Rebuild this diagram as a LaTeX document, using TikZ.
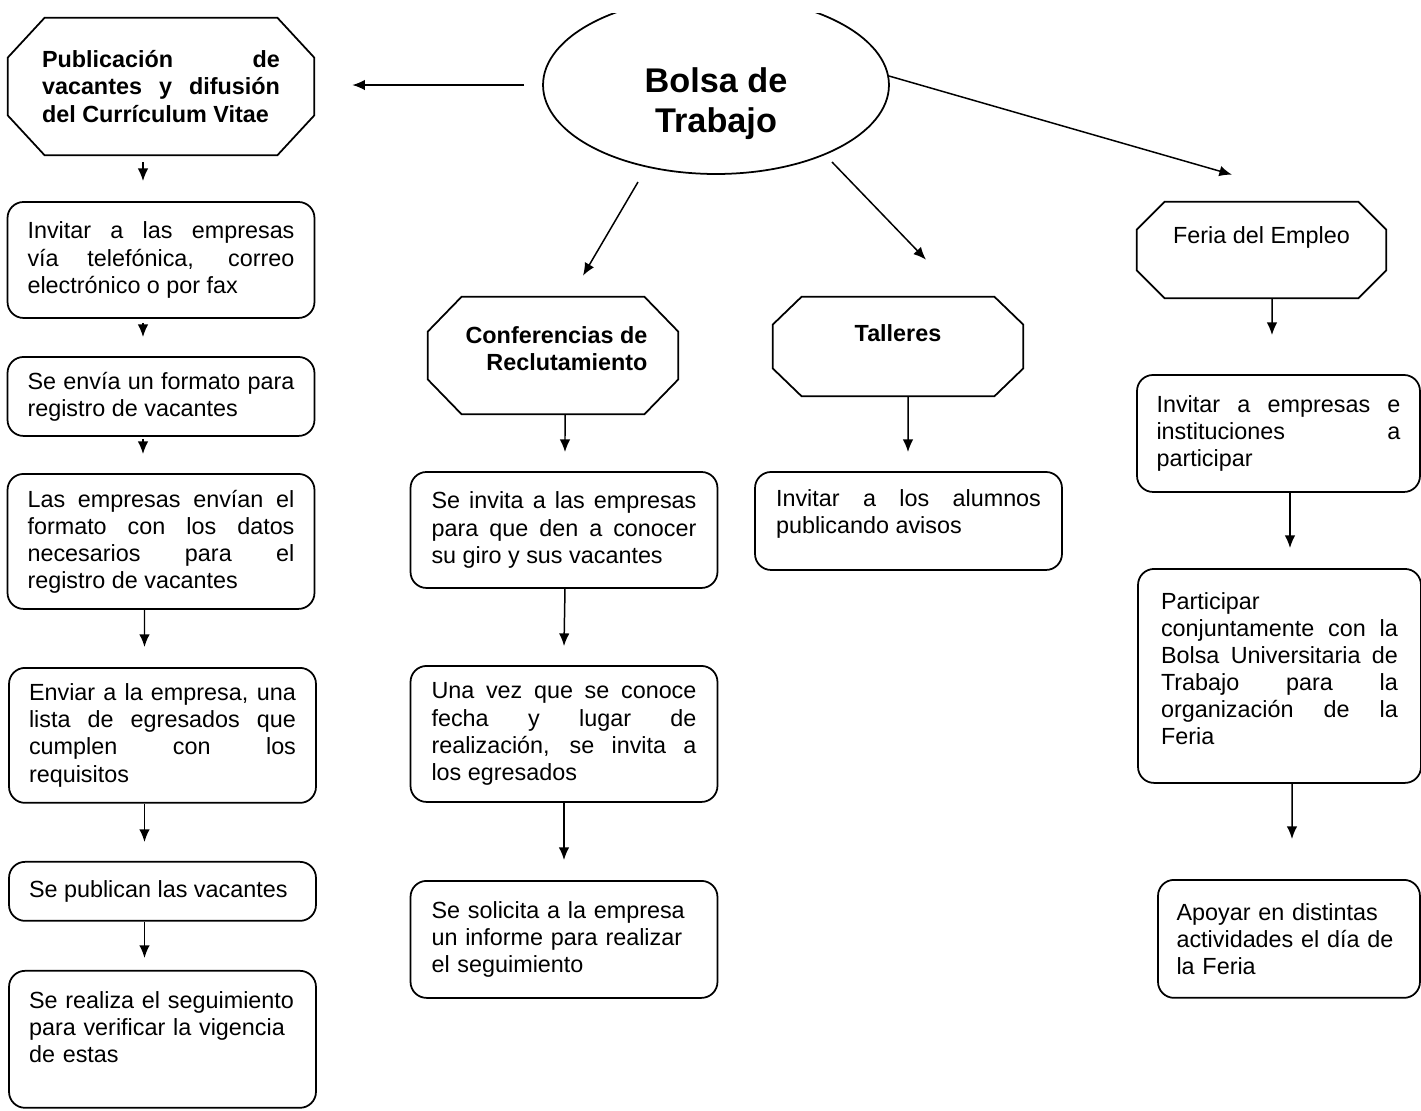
\documentclass[tikz,border=0pt]{standalone}
\usepackage{fontspec}
\setmainfont{Liberation Sans}
\usetikzlibrary{shapes,arrows.meta,calc}
\hyphenpenalty=10000
\exhyphenpenalty=10000
\tolerance=10000
\newcommand{\boxfont}{\fontsize{13.3}{15.4}\selectfont}
\newcommand{\bigfont}{\fontsize{19.5}{22.8}\selectfont\bfseries}
\tikzstyle{block} = [rectangle, draw, line width=1pt, rounded corners=0.32cm,
    text width=5.34cm, align=justify, font=\boxfont, inner sep=0pt, minimum width=6.14cm]
\tikzstyle{octa} = [rectangle, inner sep=0pt]
\tikzstyle{hdtext} = [font=\boxfont\bfseries, inner sep=0pt]
\tikzset{
  line/.style ={draw, line width=0.85pt, -{Latex[length=7.2pt,width=6pt]}}
}
% borde octogonal alrededor de un nodo: nombre, corte x, corte y
\newcommand{\octagon}[3]{%
  \draw [line width=1pt] ($(#1.north west)+(#2,0)$) -- ($(#1.north east)+(-#2,0)$)
    -- ($(#1.north east)+(0,#3)$) -- ($(#1.south east)+(0,-#3)$)
    -- ($(#1.south east)+(-#2,0)$) -- ($(#1.south west)+(#2,0)$)
    -- ($(#1.south west)+(0,-#3)$) -- ($(#1.north west)+(0,#3)$) -- cycle;}

\begin{document}
\begin{tikzpicture}[x=0.02cm, y=-0.02cm]
   \useasboundingbox (0,0) rectangle (1421,1110);
   \begin{scope}
     \clip (0,13) rectangle (1421,1110);
     \node [ellipse, draw, line width=1pt, minimum width=6.92cm, minimum height=3.56cm, inner sep=0pt,
       label={[font=\bigfont, align=center, yshift=-0.38cm]center:{Bolsa de\\Trabajo}}] (bolsa) at (716,85) {};
   \end{scope}
   % columna izquierda
   \node [octa, minimum width=6.12cm, minimum height=2.74cm,
     label={[hdtext, text width=4.76cm, align=justify]center:{Publicación de\linebreak vacantes y difusión\linebreak del Currículum Vitae}}] (pub) at (161,86.5) {};
   \octagon{pub}{37}{40}
   \node [block, below of=pub, node distance=3.47cm, minimum height=2.32cm] (invitar) {Invitar a las empresas\linebreak vía telefónica, correo\linebreak electrónico o por fax};
   \node [block, below of=invitar, node distance=2.73cm, minimum height=1.58cm] (formato) {Se envía un formato para\linebreak registro de vacantes};
   \node [block, below of=formato, node distance=2.9cm, minimum height=2.7cm] (datos) {Las empresas envían el\linebreak formato con los datos\linebreak necesarios para el\linebreak registro de vacantes};
   \node [block, below of=datos, node distance=3.88cm, xshift=0.03cm, minimum height=2.7cm] (lista) {Enviar a la empresa, una\linebreak lista de egresados que\linebreak cumplen con los\linebreak requisitos};
   \node [block, below of=lista, node distance=3.12cm, minimum height=1.18cm] (publican) {Se publican las vacantes};
   \node [block, below of=publican, node distance=2.96cm, align=left, text depth=1.56cm, minimum height=2.74cm] (seguim) {Se realiza el seguimiento\\ para verificar la vigencia\\ de estas};
   % conferencias
   \node [octa, minimum width=5cm, minimum height=2.34cm,
     label={[hdtext, align=right, xshift=0.07cm, yshift=0.14cm]center:{Conferencias de\\Reclutamiento}}] (confer) at (553,355.5) {};
   \octagon{confer}{34}{35}
   \node [block, below of=confer, node distance=3.49cm, xshift=0.22cm, text width=5.3cm, minimum height=2.32cm] (invita) {Se invita a las empresas\linebreak para que den a conocer\linebreak su giro y sus vacantes};
   \node [block, below of=invita, node distance=4.08cm, text width=5.3cm, minimum height=2.72cm] (fecha) {Una vez que se conoce\linebreak fecha y lugar de\linebreak realización, se invita a\linebreak los egresados};
   \node [block, below of=fecha, node distance=4.11cm, text width=5.3cm, align=left, minimum height=2.34cm] (informe) {Se solicita a la empresa\\ un informe para realizar\\ el seguimiento};
   % talleres
   \node [octa, minimum width=5cm, minimum height=1.98cm,
     label={[hdtext, yshift=0.27cm]center:Talleres}] (talleres) at (898,346.5) {};
   \octagon{talleres}{29}{28}
   \node [block, below of=talleres, node distance=3.49cm, xshift=0.21cm, text width=5.3cm, text depth=0.92cm, minimum height=1.96cm] (alumnos) {Invitar a los alumnos\linebreak publicando avisos};
   % feria
   \node [octa, minimum width=4.98cm, minimum height=1.92cm,
     label={[font=\boxfont, inner sep=0pt, yshift=0.26cm]center:Feria del Empleo}] (feria) at (1261.5,250) {};
   \octagon{feria}{28}{28}
   \node [block, below of=feria, node distance=3.67cm, xshift=0.34cm, text width=4.88cm, minimum width=5.66cm, minimum height=2.34cm] (empresas) {Invitar a empresas e\linebreak instituciones a\linebreak participar};
   \node [block, below of=empresas, node distance=4.85cm, xshift=0.02cm, text width=4.74cm, text depth=2.99cm, minimum width=5.66cm, minimum height=4.28cm] (bolsauni) {Participar\linebreak conjuntamente con la\linebreak Bolsa Universitaria de\linebreak Trabajo para la\linebreak organización de la\linebreak Feria};
   \node [block, below of=bolsauni, node distance=5.26cm, xshift=0.19cm, align=left, text width=4.5cm, minimum width=5.24cm, minimum height=2.36cm] (apoyar) {Apoyar en distintas\\ actividades el día de\\ la Feria};
   % flechas
   \path [line] ($(bolsa.west)+(-18,0)$) -- ($(pub.east)+(38,-1.5)$);
   \path [line] ($(bolsa)+(-78,97)$) -- ($(confer.north)+(30,-21)$);
   \path [line] ($(bolsa)+(116,77)$) -- ($(talleres.north)+(28,-37)$);
   \path [line] ($(bolsa)+(173,-9)$) -- ($(feria.north)+(-29.5,-27)$);
   \path [line] ($(pub.south)+(-18,7)$) -- ($(invitar.north)+(-18,-20)$);
   \path [line] ($(invitar.south)+(-18,4)$) -- ($(formato.north)+(-18,-19)$);
   \path [line] ($(formato.south)+(-18,2)$) -- ($(datos.north)+(-18,-19)$);
   \path [line] ($(datos.south)+(-16.5,0)$) -- ($(lista.north)+(-18,-20)$);
   \path [line] ($(lista.south)+(-18,0)$) -- ($(publican.north)+(-18,-19)$);
   \path [line] ($(publican.south)+(-18,0)$) -- ($(seguim.north)+(-18,-12)$);
   \path [line] ($(confer.south)+(12,0)$) -- ($(invita.north)+(1,-19)$);
   \path [line] ($(invita.south)+(1,0)$) -- ($(fecha.north)+(0,-19)$);
   \path [line] (fecha.south) -- ($(informe.north)+(0,-20)$);
   \path [line] ($(talleres.south)+(10,0)$) -- ($(alumnos.north)+(-0.5,-19)$);
   \path [line] ($(feria.south)+(10.5,0)$) -- ($(empresas.north)+(-6.5,-39)$);
   \path [line] ($(empresas.south)+(11.5,0)$) -- ($(bolsauni.north)+(10.5,-20)$);
   \path [line] ($(bolsauni.south)+(12.5,0)$) -- ($(apoyar.north)+(3,-40)$);
\end{tikzpicture}
\end{document}
